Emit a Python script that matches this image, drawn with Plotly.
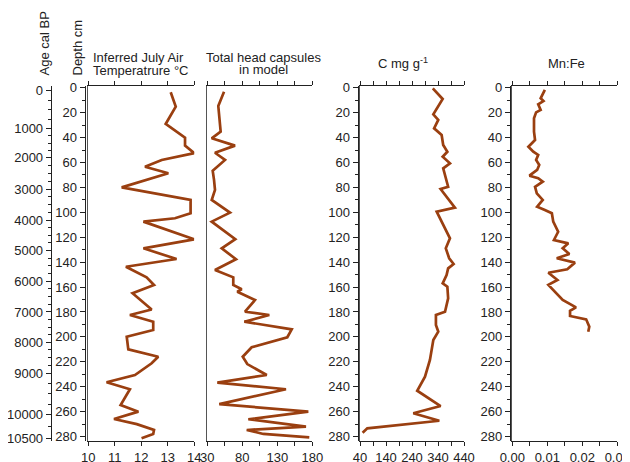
import numpy as np
import plotly.graph_objects as go

# ---------------- data ----------------
temp_depth = [3.7, 15.2, 29.1, 40.1, 46.5, 52.5, 58, 63.4, 68.7, 80, 90.1, 100.8, 104.8, 107.5,
              121.7, 128.9, 137.5, 143.7, 152.2, 158.3, 165, 178, 182.4, 187.8, 194.5, 199.8,
              210, 215.9, 221.2, 230.6, 236.4, 242, 254.7, 260, 265.9, 270, 274.7, 277.9, 281.4]
temp_vals = [13.11, 13.30, 12.92, 13.65, 13.65, 14.0, 12.77, 12.14, 13.02, 11.26, 13.86, 13.86,
             13.27, 12.08, 13.99, 12.08, 13.33, 11.42, 12.2, 12.48, 11.67, 12.39, 11.57, 12.45,
             12.45, 11.45, 11.51, 12.64, 12.39, 11.76, 10.69, 11.57, 11.22, 11.89, 10.97, 11.83,
             12.48, 12.45, 12.01]

hc_depth = [3.2, 14.7, 35.3, 40.6, 46.5, 52.2, 58, 66.6, 74, 82, 90.1, 100.3, 107.5, 121.5,
            128.9, 137.7, 146.3, 152.2, 158.3, 161.8, 163.7, 170.4, 179.8, 182.4, 187.8, 193.9,
            200.3, 208.3, 215.9, 221.8, 230.6, 236.7, 242, 253.9, 260, 266.1, 272, 274.7,
            277.9, 280.6]
hc_vals = [53.9, 45.7, 49.1, 36.3, 69.6, 41, 55.3, 37.7, 39.6, 41, 36.3, 62.4, 36.3, 70,
           50.6, 71, 41, 67.1, 67.1, 79.1, 72.9, 98.1, 83.9, 118.6, 82.9, 150.6,
           144.3, 93.4, 80.6, 87.1, 114.9, 44.3, 142.4, 47.1, 174.3, 88.6, 171, 86.3,
           110, 175.7]

c_depth = [0.5, 9.1, 21.4, 25.9, 32.6, 38, 46, 51.4, 55.4, 60.7, 64.7, 79.5, 81.3, 96.3, 99.5,
           120.9, 128.9, 136.9, 141.5, 145, 150.3, 157, 159.7, 169, 179.8, 182.4, 190.4, 195.8,
           202.5, 218.5, 231.9, 243.2, 255.5, 261.3, 267.3, 273.4, 276.9]
c_vals = [320, 358, 322, 341, 325, 354, 360, 376, 358, 386, 360, 379, 350, 405, 335,
          386, 370, 383, 400, 379, 373, 358, 376, 379, 367, 332, 332, 341,
          322, 309, 290, 260, 350, 245, 345, 68, 50]

mn_depth = [1.8, 8.5, 10.7, 13.3, 17.9, 19.8, 24.6, 35.3, 42, 47.4, 51.4, 54, 58, 62, 66, 70.6,
            72.7, 75.4, 79.5, 84.8, 90.1, 95.5, 98.2, 100.8, 107.5, 115.6, 122.2, 124.9, 128.9,
            133.5, 136.9, 140.4, 145.7, 148.5, 154.3, 158.3, 170.4, 176.3, 179, 183.2, 185.9,
            191.8, 195.8]
mn_vals = [0.0093, 0.0081, 0.0089, 0.0074, 0.0081, 0.0068, 0.0062, 0.0062, 0.0065, 0.0046,
           0.0060, 0.0074, 0.0068, 0.0077, 0.0071, 0.0049, 0.0074, 0.0087, 0.0065, 0.0070,
           0.0087, 0.0071, 0.0093, 0.0113, 0.0117, 0.0131, 0.0119, 0.0160, 0.0144, 0.0163,
           0.0127, 0.0179, 0.0157, 0.0103, 0.0129, 0.0103, 0.0144, 0.0182, 0.0165, 0.0165,
           0.0211, 0.0220, 0.0217]

# age-depth model for the age axis
age_labels = [0, 1000, 2000, 3000, 4000, 5000, 6000, 7000, 8000, 9000, 10000, 10500]
age_depths = [2.5, 32.7, 56.3, 81.5, 106.2, 130.6, 155.3, 180, 204.3, 229, 262.5, 281.3]

temp_ticks = [10, 11, 12, 13, 14]
hc_ticks = [30, 55, 80, 105, 130, 155, 180]
hc_labels = ["30", "", "80", "", "130", "", "180"]
c_ticks = [40, 90, 140, 190, 240, 290, 340, 390, 440]
c_labels = ["40", "", "140", "", "240", "", "340", "", "440"]
mn_ticks = [0, 0.005, 0.01, 0.015, 0.02, 0.025, 0.03]
mn_labels = ["0.00", "", "0.01", "", "0.02", "", "0.03"]

# ---------------- layout helpers ----------------
# the page body has an 8px margin, so the figure is made 8px smaller on each axis
OFF = 8
W, H = 630 - OFF, 462 - OFF
LINE = "#9A3F10"
TXT = "#222222"
FONT = "Arial, Liberation Sans, sans-serif"

def fx(px):
    return (px - OFF) / W

def fy(py):
    return 1 - (py - OFF) / H

y_top_px, y_bot_px = 86, 441
y_dom = [fy(y_bot_px), fy(y_top_px)]
y_range = [(y_bot_px - 87.7) / 1.246, (y_top_px - 87.7) / 1.246]

panels = [
    (88.3, 194.3, [10, 14], temp_ticks, [str(t) for t in temp_ticks], temp_depth, temp_vals),
    (207.3, 312.3, [30, 180], hc_ticks, hc_labels, hc_depth, hc_vals),
    (360.0, 464.0, [40, 440], c_ticks, c_labels, c_depth, c_vals),
    (512.3, 617.3, [0, 0.03], mn_ticks, mn_labels, mn_depth, mn_vals),
]

fig = go.Figure()
layout = dict(
    width=W, height=H, autosize=False,
    margin=dict(l=0, r=0, t=0, b=0, pad=0),
    paper_bgcolor="white", plot_bgcolor="white",
    showlegend=False,
    font=dict(family=FONT, size=13, color=TXT),
)

for i, (x0, x1, xr, tv, tt, dep, val) in enumerate(panels, start=1):
    xa = "x" if i == 1 else f"x{i}"
    ya = "y" if i == 1 else f"y{i}"
    fig.add_trace(go.Scatter(x=val, y=dep, xaxis=xa, yaxis=ya, mode="lines",
                             line=dict(color=LINE, width=2.7), hoverinfo="skip"))
    layout["xaxis" if i == 1 else f"xaxis{i}"] = dict(
        domain=[fx(x0), fx(x1)], range=xr, anchor=ya, automargin=False,
        tickmode="array", tickvals=tv, ticktext=tt,
        ticks="outside", ticklen=4, tickwidth=1, tickcolor="#222",
        showline=True, linecolor="#222", linewidth=1, mirror="ticks",
        showgrid=False, zeroline=False,
        tickfont=dict(size=13, color=TXT),
    )
    layout["yaxis" if i == 1 else f"yaxis{i}"] = dict(
        domain=y_dom, range=y_range, anchor=xa, automargin=False,
        showline=True, linecolor="#555", linewidth=1.4,
        ticks="", showticklabels=False, showgrid=False, zeroline=False,
    )

# depth axes (free, overlaying)
depth_axes = [(84.6, 5), (357.5, 6), (509.8, 7)]
for pos, n in depth_axes:
    layout[f"yaxis{n}"] = dict(
        overlaying="y", anchor="free", position=fx(pos), side="left", automargin=False,
        domain=y_dom, range=y_range,
        tickmode="linear", tick0=0, dtick=20,
        ticks="outside", ticklen=5, tickwidth=1, tickcolor="#222",
        minor=dict(dtick=10, tick0=0, ticks="outside", ticklen=3, tickwidth=1, tickcolor="#222"),
        showline=True, linecolor="#222", linewidth=1,
        showgrid=False, zeroline=False,
        tickfont=dict(size=13, color=TXT),
    )
    fig.add_trace(go.Scatter(x=[None], y=[None], yaxis=f"y{n}", xaxis="x",
                             mode="lines", hoverinfo="skip", showlegend=False))

# age axis
minor_ages = [a for a in range(0, 10501, 250) if a not in age_labels]
minor_depths = list(np.interp(minor_ages, age_labels, age_depths))
layout["yaxis8"] = dict(
    overlaying="y", anchor="free", position=fx(50.7), side="left", automargin=False,
    domain=y_dom, range=y_range,
    tickmode="array", tickvals=age_depths, ticktext=[str(a) for a in age_labels],
    ticks="outside", ticklen=5, tickwidth=1, tickcolor="#222",
    minor=dict(tickmode="array", tickvals=minor_depths, ticks="outside", ticklen=3,
               tickwidth=1, tickcolor="#222"),
    showline=True, linecolor="#222", linewidth=1,
    showgrid=False, zeroline=False,
    tickfont=dict(size=13, color=TXT),
)
fig.add_trace(go.Scatter(x=[None], y=[None], yaxis="y8", xaxis="x",
                         mode="lines", hoverinfo="skip", showlegend=False))

fig.update_layout(**layout)

ann = [
    dict(text="Age cal BP", x=fx(44.5), y=fy(78), textangle=-90, xanchor="center", yanchor="bottom"),
    dict(text="Depth cm", x=fx(77.5), y=fy(78), textangle=-90, xanchor="center", yanchor="bottom"),
    dict(text="Inferred July Air", x=fx(91), y=fy(57), xanchor="left", yanchor="middle"),
    dict(text="Temperatrure °C", x=fx(91), y=fy(70.5), xanchor="left", yanchor="middle"),
    dict(text="Total head capsules", x=fx(263.5), y=fy(57), xanchor="center", yanchor="middle"),
    dict(text="in model", x=fx(263.5), y=fy(70), xanchor="center", yanchor="middle"),
    dict(text="C mg g<sup>-1</sup>", x=fx(403), y=fy(63), xanchor="center", yanchor="middle"),
    dict(text="Mn:Fe", x=fx(566), y=fy(64), xanchor="center", yanchor="middle"),
]
for a in ann:
    a.update(xref="paper", yref="paper", showarrow=False,
             font=dict(family=FONT, size=13, color=TXT))
fig.update_layout(annotations=ann)

fig.write_html("out.html")
